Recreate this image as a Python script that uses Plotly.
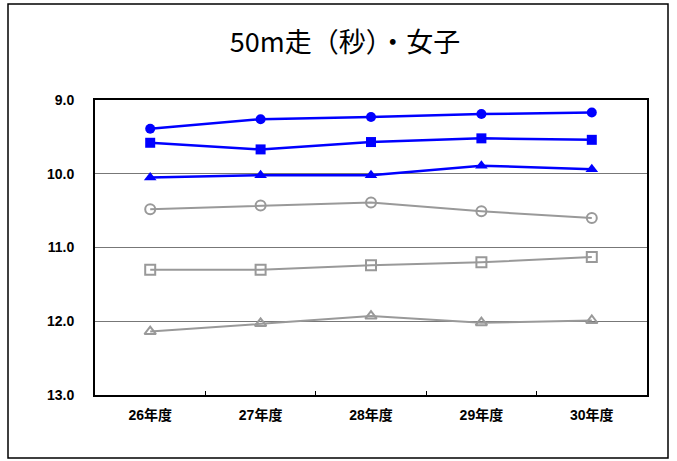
import plotly.graph_objects as go

categories = ["26年度", "27年度", "28年度", "29年度", "30年度"]
s1 = [9.39, 9.26, 9.23, 9.19, 9.17]
s2 = [9.58, 9.67, 9.57, 9.52, 9.54]
s3 = [10.05, 10.02, 10.02, 9.89, 9.94]
s4 = [10.48, 10.43, 10.39, 10.51, 10.60]
s5 = [11.30, 11.30, 11.24, 11.20, 11.13]
s6 = [12.14, 12.03, 11.93, 12.02, 11.99]
y_ticks = [9.0, 10.0, 11.0, 12.0, 13.0]

BLUE = "#0000FF"
GRAY = "#999999"

series = [
    (s1, BLUE, "circle", 10, 2.5),
    (s2, BLUE, "square", 10, 2.5),
    (s3, BLUE, "triangle-up", 11, 2.5),
    (s4, GRAY, "circle-open", 10, 2),
    (s5, GRAY, "square-open", 10, 2),
    (s6, GRAY, "triangle-up-open", 10, 2),
]

fig = go.Figure()
for vals, color, sym, size, lw in series:
    fig.add_trace(go.Scatter(
        x=categories, y=vals, mode="lines+markers",
        line=dict(color=color, width=lw),
        marker=dict(symbol=sym, size=size, color=color,
                    line=dict(color=color, width=2 if "open" in sym else 0)),
        showlegend=False, hoverinfo="skip",
    ))

fig.update_layout(
    width=677, height=461,
    margin=dict(l=95, r=30, t=100, b=66, autoexpand=False),
    paper_bgcolor="white", plot_bgcolor="white",
    title=dict(text="50m走（秒）・女子", xref="container", x=345/677, xanchor="center",
               yref="container", y=1 - 43/461, yanchor="middle",
               font=dict(family="Noto Sans CJK JP", size=27, color="black")),
    font=dict(family="Liberation Sans", color="black"),
)
fig.update_xaxes(
    type="category", range=[-0.5, len(categories) - 0.5],
    showline=True, linecolor="black", linewidth=2, mirror=True,
    ticks="inside", tickson="boundaries", ticklen=4, tickcolor="black",
    showgrid=False, ticklabelstandoff=6,
    tickfont=dict(size=14, family="Liberation Sans, Noto Sans CJK JP", weight="bold"),
)
fig.update_yaxes(
    range=[13, 9], tickvals=y_ticks, ticktext=[f"{v:.1f}" for v in y_ticks],
    showline=True, linecolor="black", linewidth=2, mirror=True,
    showgrid=True, gridcolor="#777777", gridwidth=1, zeroline=False, ticks="",
    ticklabelstandoff=16,
    tickfont=dict(size=14, family="Liberation Sans", weight="bold"),
)
fig.add_shape(type="rect", xref="paper", yref="paper",
              x0=(8-95)/552, x1=(668-95)/552, y0=(395-458)/295, y1=(395-4)/295,
              line=dict(color="black", width=1.5), layer="below")

fig.write_html("out.html", config={"displayModeBar": False},
               post_script="document.body.style.margin='0';document.body.style.overflow='hidden';")
